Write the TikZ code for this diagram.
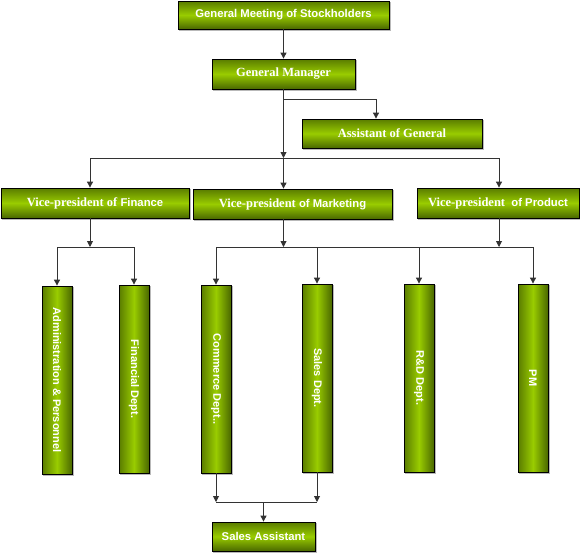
\documentclass[tikz,border=0pt]{standalone}
\usepackage{fontspec}
\setmainfont{Liberation Sans}
\newfontfamily\serifb{Liberation Serif}
\usetikzlibrary{arrows.meta}
\definecolor{olivetop}{HTML}{5A7C00}
\definecolor{olivebot}{HTML}{4A6800}
\definecolor{olivelight}{HTML}{99CC00}
\definecolor{linegray}{HTML}{333333}
\newcommand{\sr}[1]{{\serifb\bfseries\fontsize{12.5}{14}\selectfont #1}}
\tikzset{
  shadowline/.style={preaction={draw=gray!55, line width=1pt, transform canvas={shift={(1pt,-1pt)}}}},
  hbox/.style={shadowline, draw=black, line width=0.8pt, top color=olivetop, bottom color=olivebot, middle color=olivelight,
    text=white, inner sep=0pt, font=\bfseries\fontsize{11.3}{13}\selectfont},
  vbox/.style={shadowline, draw=black, line width=0.8pt, left color=olivetop, right color=olivebot, middle color=olivelight,
    text=white, inner sep=0pt, minimum width=30pt, minimum height=188pt, font=\bfseries\fontsize{11}{13}\selectfont},
  conn/.style={draw=linegray, line width=0.9pt, -{Triangle[width=6pt,length=6pt]}},
  plain/.style={draw=linegray, line width=0.9pt},
}
\begin{document}
\begin{tikzpicture}[x=1pt,y=-1pt]
\useasboundingbox (0,0) rectangle (580,552);
% top levels
\node[hbox, minimum width=211pt, minimum height=28pt] (stock) at (283.5,15) {General Meeting of Stockholders};
\node[hbox, minimum width=143pt, minimum height=30pt] (gm) at (283.5,74) {\sr{General Manager}};
\node[hbox, minimum width=180pt, minimum height=29pt] (asst) at (392,133.5) {\sr{Assistant of General}};
\node[hbox, minimum width=188pt, minimum height=30pt] (vpf) at (95,203) {\sr{Vice-president of} Finance};
\node[hbox, minimum width=199pt, minimum height=30pt] (vpm) at (292.5,204) {\sr{Vice-president} of Marketing};
\node[hbox, minimum width=162pt, minimum height=30pt] (vpp) at (498,203) {\sr{Vice-president}\ \ of Product};
% vertical departments
\node[vbox] (admin) at (57,380) {\rotatebox{-90}{Administration \& Personnel}};
\node[vbox] (fin) at (134,379) {\rotatebox{-90}{Financial Dept.}};
\node[vbox] (comm) at (216,379) {\rotatebox{-90}{Commerce Dept..}};
\node[vbox] (sales) at (317,378) {\rotatebox{-90}{Sales Dept.}};
\node[vbox] (rd) at (419,378) {\rotatebox{-90}{R\&D Dept.}};
\node[vbox] (pm) at (533,378) {\rotatebox{-90}{PM}};
\node[hbox, minimum width=103pt, minimum height=29pt] (sa) at (263.5,536.5) {Sales Assistant};
% connectors
\coordinate (ja) at (376,99);
\coordinate (jb) at (283.5,158);
\coordinate (jf) at (90,158);
\coordinate (jp) at (499,158);
\draw[conn] (stock.south) -- (gm.north);
\draw[plain] (gm.south |- ja) -- (ja);
\draw[conn] (ja) -- (ja |- asst.north);
\draw[conn] (gm.south) -- (jb);
\draw[plain] (jf) -- (jp);
\draw[conn] (jf) -- (jf |- vpf.north);
\draw[conn] (jb) -- (jb |- vpm.north);
\draw[conn] (jp) -- (jp |- vpp.north);
% finance branch
\coordinate (kf) at (90,247);
\draw[conn] (jf |- vpf.south) -- (kf);
\draw[plain] (admin.north |- kf) -- (fin.north |- kf);
\draw[conn] (admin.north |- kf) -- (admin.north);
\draw[conn] (fin.north |- kf) -- (fin.north);
% marketing / product branch
\coordinate (km) at (283.5,247);
\coordinate (kp) at (499,247);
\draw[conn] (jb |- vpm.south) -- (km);
\draw[conn] (jp |- vpp.south) -- (kp);
\draw[plain] (comm.north |- km) -- (pm.north |- km);
\draw[conn] (comm.north |- km) -- (comm.north);
\draw[conn] (sales.north |- km) -- (sales.north);
\draw[conn] (rd.north |- km) -- (rd.north);
\draw[conn] (pm.north |- km) -- (pm.north);
% sales assistant
\coordinate (ls) at (263.5,502);
\draw[conn] (comm.south) -- (comm.south |- ls);
\draw[conn] (sales.south) -- (sales.south |- ls);
\draw[plain] (comm.south |- ls) -- (sales.south |- ls);
\draw[conn] (ls) -- (sa.north);
\end{tikzpicture}
\end{document}
